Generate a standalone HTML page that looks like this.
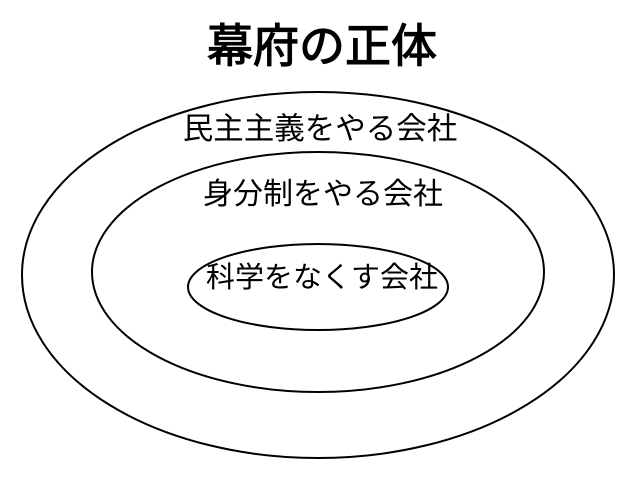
<!DOCTYPE html>
<html><head><meta charset="utf-8"><style>
html,body{margin:0;padding:0;background:#fff;}
svg{display:block;}
text{font-family:"Liberation Sans","Noto Sans CJK JP",sans-serif;fill:#000;text-anchor:middle;}
</style></head><body>
<svg width="640" height="480" viewBox="0 0 640 480">
<rect width="640" height="480" fill="#fff"/>
<text x="322" y="62" font-size="46" font-weight="normal" stroke="#000" stroke-width="1.2">幕府の正体</text>
<ellipse cx="318" cy="275" rx="296" ry="183" fill="none" stroke="#000" stroke-width="2"/>
<ellipse cx="318" cy="272" rx="226" ry="120" fill="none" stroke="#000" stroke-width="2"/>
<ellipse cx="318" cy="287" rx="130" ry="43" fill="none" stroke="#000" stroke-width="2"/>
<text x="320" y="139" font-size="30.5">民主主義をやる会社</text>
<text x="323" y="204" font-size="30">身分制をやる会社</text>
<text x="322" y="287" font-size="29">科学をなくす会社</text>
</svg>
</body></html>
